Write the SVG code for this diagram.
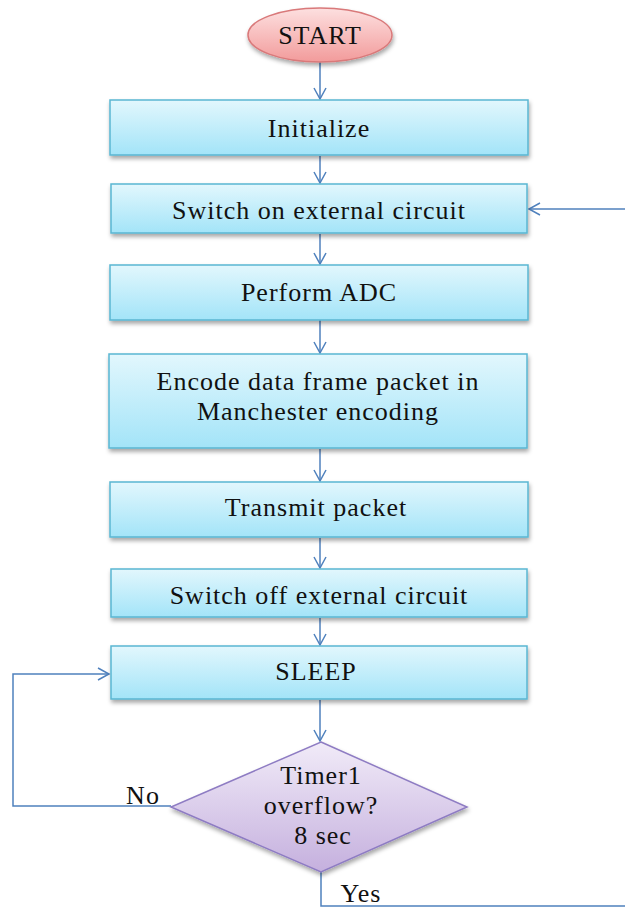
<svg xmlns="http://www.w3.org/2000/svg" width="625" height="908" viewBox="0 0 625 908">
<defs>
<linearGradient id="gBox" x1="0" y1="0" x2="0" y2="1"><stop offset="0" stop-color="#e2f7fd"/><stop offset="1" stop-color="#a3e4f8"/></linearGradient>
<linearGradient id="gDia" x1="0" y1="0" x2="0" y2="1"><stop offset="0" stop-color="#f1ebf8"/><stop offset="1" stop-color="#c5b0de"/></linearGradient>
<linearGradient id="gEll" x1="0" y1="0" x2="0" y2="1"><stop offset="0" stop-color="#fde0e0"/><stop offset="1" stop-color="#f29b9b"/></linearGradient>
<filter id="sh" x="-10%" y="-20%" width="120%" height="150%"><feDropShadow dx="1" dy="3" stdDeviation="2" flood-color="#000" flood-opacity="0.35"/></filter>
<marker id="arr" markerWidth="14" markerHeight="14" refX="12" refY="7" orient="auto" markerUnits="userSpaceOnUse"><path d="M1,1 L12,7 L1,13" fill="none" stroke="#4f81bd" stroke-width="1.5"/></marker>
</defs>
<style>
.box{fill:url(#gBox);stroke:#5ab6d2;stroke-width:1.5;filter:url(#sh)}
.dia{fill:url(#gDia);stroke:#8e7cc3;stroke-width:1.5;filter:url(#sh)}
.ell{fill:url(#gEll);stroke:#d9797a;stroke-width:1.5;filter:url(#sh)}
.c{fill:none;stroke:#4f81bd;stroke-width:1.5}
</style>
<g id="connectors">
<line class="c" x1="320" y1="62" x2="320" y2="99" marker-end="url(#arr)"/>
<line class="c" x1="320" y1="156" x2="320" y2="183" marker-end="url(#arr)"/>
<line class="c" x1="320" y1="234" x2="320" y2="264" marker-end="url(#arr)"/>
<line class="c" x1="320" y1="320" x2="320" y2="353" marker-end="url(#arr)"/>
<line class="c" x1="320" y1="449" x2="320" y2="481" marker-end="url(#arr)"/>
<line class="c" x1="320" y1="538" x2="320" y2="568" marker-end="url(#arr)"/>
<line class="c" x1="320" y1="618" x2="320" y2="645" marker-end="url(#arr)"/>
<line class="c" x1="320" y1="700" x2="320" y2="741" marker-end="url(#arr)"/>
<polyline class="c" points="171,806 13,806 13,674 109,674" marker-end="url(#arr)"/>
<polyline class="c" points="321,872 321,906 625,906"/>
<line class="c" x1="625" y1="209" x2="529" y2="209" marker-end="url(#arr)"/>
</g>
<g font-family="Liberation Serif, Times New Roman, serif" font-size="26" fill="#111" text-anchor="middle" letter-spacing="1">
<g id="start"><ellipse class="ell" cx="320" cy="35" rx="72" ry="27"/><text x="320" y="44">START</text></g>
<g id="initialize"><rect class="box" x="110" y="100" width="418" height="55"/><text x="319" y="137">Initialize</text></g>
<g id="switch-on"><rect class="box" x="111" y="184" width="416" height="49"/><text x="319" y="219">Switch on external circuit</text></g>
<g id="adc"><rect class="box" x="110" y="265" width="418" height="55"/><text x="319" y="301">Perform ADC</text></g>
<g id="encode"><rect class="box" x="109" y="354" width="418" height="94"/><text x="318" y="390">Encode data frame packet in</text><text x="318" y="420">Manchester encoding</text></g>
<g id="transmit"><rect class="box" x="110" y="482" width="418" height="55"/><text x="316" y="516">Transmit packet</text></g>
<g id="switch-off"><rect class="box" x="111" y="569" width="416" height="48"/><text x="319" y="604">Switch off external circuit</text></g>
<g id="sleep"><rect class="box" x="111" y="646" width="416" height="53"/><text x="316" y="680">SLEEP</text></g>
<g id="timer"><polygon class="dia" points="321,742 467,807 321,872 171,807"/><text x="321" y="784">Timer1</text><text x="321" y="814">overflow?</text><text x="323" y="844">8 sec</text></g>
<g id="labels"><text x="143" y="804">No</text><text x="361" y="902">Yes</text></g>
</g>
</svg>
